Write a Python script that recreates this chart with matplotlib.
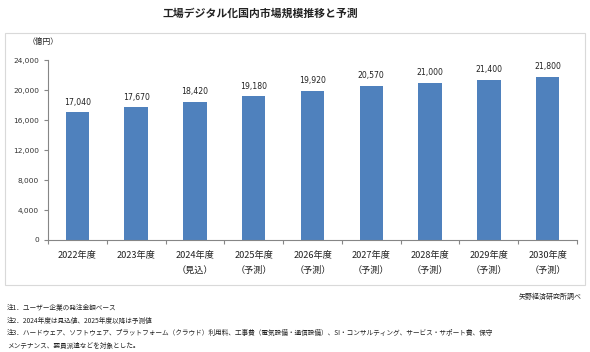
import matplotlib
matplotlib.use("Agg")
import matplotlib.pyplot as plt
from matplotlib.patches import Rectangle

plt.rcParams['font.family'] = ['Noto Sans CJK JP', 'DejaVu Sans']

years = ["2022年度", "2023年度", "2024年度", "2025年度", "2026年度",
         "2027年度", "2028年度", "2029年度", "2030年度"]
status = ["", "", "（見込）", "（予測）", "（予測）", "（予測）", "（予測）", "（予測）", "（予測）"]
values = [17040, 17670, 18420, 19180, 19920, 20570, 21000, 21400, 21800]
yticks = [0, 4000, 8000, 12000, 16000, 20000, 24000]

title = "工場デジタル化国内市場規模推移と予測"
unit = "（億円）"
source = "矢野経済研究所調べ"
notes = [
    "注1．ユーザー企業の発注金額ベース",
    "注2．2024年度は見込値、2025年度以降は予測値",
    "注3．ハードウェア、ソフトウェア、プラットフォーム（クラウド）利用料、工事費（電気設備・通信設備）、SI・コンサルティング、サービス・サポート費、保守",
    "メンテナンス、要員派遣などを対象とした。",
]

W, H = 590, 352
fig = plt.figure(figsize=(W / 100, H / 100), dpi=100)

def fx(px):
    return px / W

def fy(py):
    return 1 - py / H

# chart border box
fig.patches.append(Rectangle((fx(5), fy(285)), fx(585) - fx(5), fy(33) - fy(285),
                             transform=fig.transFigure, fill=False,
                             edgecolor="#D9D9D9", linewidth=0.8))

ax = fig.add_axes([fx(48), fy(240), fx(577) - fx(48), fy(60) - fy(240)])
x = list(range(len(values)))
ax.bar(x, values, width=0.4, color="#4F81BD")
ax.set_xlim(-0.5, len(values) - 0.5)
ax.set_ylim(0, 24000)
ax.set_yticks(yticks)
ax.set_yticklabels([f"{v:,}" for v in yticks], fontsize=5.3, family="DejaVu Sans", color="#333333")
ax.set_xticks([i + 0.5 for i in range(-1, len(values))])
ax.set_xticklabels([])
ax.tick_params(axis="both", direction="out", length=3, color="#868686", width=0.8)
for s in ["top", "right"]:
    ax.spines[s].set_visible(False)
for s in ["left", "bottom"]:
    ax.spines[s].set_color("#868686")
    ax.spines[s].set_linewidth(0.8)

for i, v in enumerate(values):
    ax.annotate(f"{v:,}", (i, v), xytext=(0, 4), textcoords="offset points",
                ha="center", va="bottom", fontsize=5.6, family="DejaVu Sans", color="#222222")
    ax.text(i, -0.088, years[i], transform=ax.get_xaxis_transform(), ha="center", va="center",
            fontsize=6.6, color="#222222")
    if status[i]:
        ax.text(i, -0.17, status[i], transform=ax.get_xaxis_transform(), ha="center", va="center",
                fontsize=6.6, color="#222222")

fig.text(fx(260), fy(14), title, ha="center", va="center", fontsize=7.8, color="#222222",
         fontweight="bold")
fig.text(fx(43), fy(42), unit, ha="center", va="center", fontsize=5.6, color="#222222")
fig.text(fx(582), fy(297), source, ha="right", va="center", fontsize=5, color="#222222")
for i, n in enumerate(notes):
    fig.text(fx(7), fy(308 + i * 12.5), n, ha="left", va="center", fontsize=4.8, color="#222222")

fig.savefig("out.png", dpi=100)
